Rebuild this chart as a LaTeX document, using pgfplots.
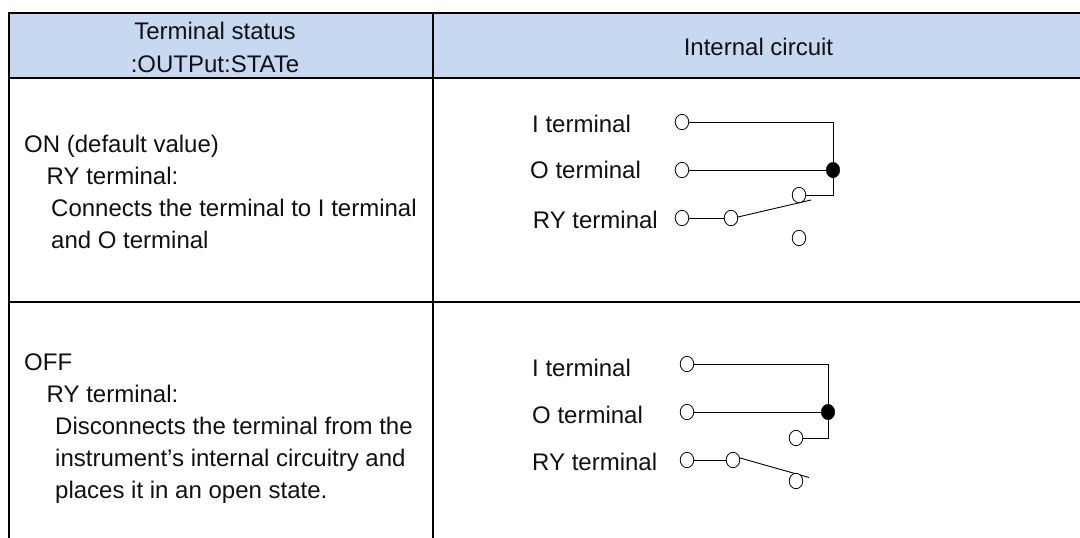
\documentclass[border=0pt]{standalone}
\usepackage{pgfplots}
\pgfplotsset{compat=1.18}
\usepackage{fontspec}
\setmainfont{Liberation Sans}
\definecolor{hdr}{HTML}{C6D9F1}
\definecolor{txt}{HTML}{111111}
\newcommand{\tfont}{\fontsize{24}{28}\selectfont}
\newcommand{\T}[3]{\node[anchor=base west,inner sep=0pt,text=txt,font=\tfont] at (axis cs:#1,#2) {#3};}
\newcommand{\C}[3]{\node[anchor=base,inner sep=0pt,text=txt,font=\tfont] at (axis cs:#1,#2) {#3};}
\begin{document}
\begin{tikzpicture}
\begin{axis}[
  scale only axis,width=1080pt,height=538pt,
  xmin=0,xmax=1080,ymin=0,ymax=538,y dir=reverse,
  axis lines=none,clip=true,
  every axis plot/.append style={no markers}
]
% full-page extent
\addplot[draw=white,line width=0pt,fill=white] coordinates {(0,0) (1080,0) (1080,538) (0,538) (0,0)};
% header fill
\addplot[fill=hdr,draw=none] coordinates {(9,13) (1080,13) (1080,77.7) (9,77.7) (9,13)};
% table rules
\addplot[black,line width=1.7pt] coordinates {(8.7,13) (1080,13)};
\addplot[black,line width=1.7pt] coordinates {(8.7,77.7) (1080,77.7)};
\addplot[black,line width=1.7pt] coordinates {(8.7,302) (1080,302)};
\addplot[black,line width=1.7pt] coordinates {(8.7,12.2) (8.7,538)};
\addplot[black,line width=1.7pt] coordinates {(432.7,12.2) (432.7,538)};
% upper circuit wires
\addplot[black,line width=0.9pt] coordinates {(682,122) (833,122) (833,195) (799,195)};
\addplot[black,line width=0.9pt] coordinates {(682,170) (833,170)};
\addplot[black,line width=0.9pt] coordinates {(682,218) (731,218)};
\addplot[black,line width=0.9pt] coordinates {(738,217) (811,200)};
% lower circuit wires
\addplot[black,line width=0.9pt] coordinates {(687,364) (828,364) (828,438) (796,438)};
\addplot[black,line width=0.9pt] coordinates {(687,412) (828,412)};
\addplot[black,line width=0.9pt] coordinates {(687,460) (733,460)};
\addplot[black,line width=0.9pt] coordinates {(740,458) (809,477.5)};
% terminals
\addplot[only marks,mark=*,mark size=7.7pt,mark options={fill=white,draw=black,line width=0.8pt,xscale=0.88}]
 coordinates {(682,122) (682,170) (682,218) (731,218) (799,195) (799,238)
              (687,364) (687,412) (687,460) (733,460) (796,438) (796,481)};
\addplot[only marks,mark=*,mark size=7.7pt,mark options={fill=black,draw=black,xscale=0.88}]
 coordinates {(833,170) (828,412)};
% header text
\C{215}{39.3}{Terminal status}
\C{215}{72}{:OUTPut:STATe}
\C{758.5}{55.7}{Internal circuit}
% left column
\T{24}{152.7}{ON (default value)}
\T{46.5}{184.7}{RY terminal:}
\T{51}{216.7}{Connects the terminal to I terminal}
\T{51}{248.7}{and O terminal}
\T{24}{370.7}{OFF}
\T{46.5}{402.7}{RY terminal:}
\T{55}{434.7}{Disconnects the terminal from the}
\T{55}{466.7}{instrument’s internal circuitry and}
\T{55}{498.7}{places it in an open state.}
% circuit labels
\T{532}{132.7}{I terminal}
\T{530}{178}{O terminal}
\T{532.7}{228.7}{RY terminal}
\T{532}{376}{I terminal}
\T{532}{423}{O terminal}
\T{532}{470.7}{RY terminal}
\end{axis}
\end{tikzpicture}
\end{document}
